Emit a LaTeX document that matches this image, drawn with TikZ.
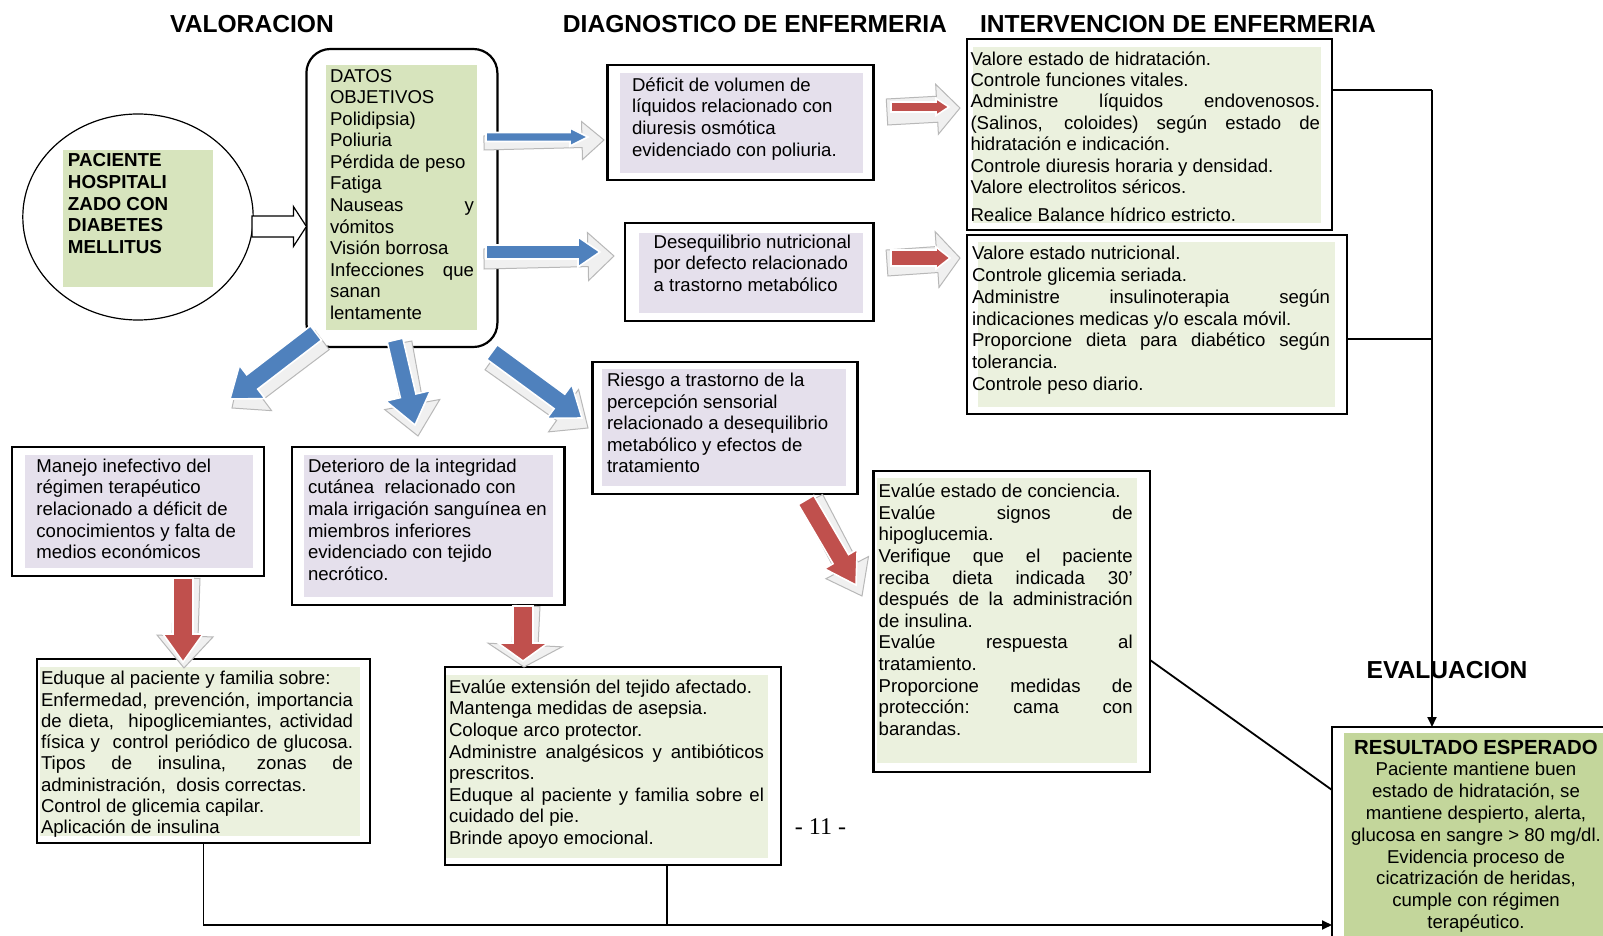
\documentclass[tikz,border=0pt]{standalone}
\usepackage{fontspec}
\setmainfont{Liberation Sans}
\newfontfamily\pagenumfont{Liberation Serif}
\usetikzlibrary{shapes.geometric,calc,arrows.meta}

\definecolor{dgreen}{HTML}{D7E4BD}
\definecolor{lgreen}{HTML}{EBF1DE}
\definecolor{rgreen}{HTML}{C3D69B}
\definecolor{lpurple}{HTML}{E5E0EC}
\definecolor{arrblue}{HTML}{4F81BD}
\definecolor{arrred}{HTML}{C0504D}

\newcommand\bodyfont{\fontsize{9.3pt}{10.75pt}\selectfont}
\newcommand\jl[1]{\noindent\hbox to \hsize{\spaceskip=0.278em plus 1fil\xspaceskip=0.278em plus 1fil\relax #1}}

% fat block arrow: style, start, end, shaft half width, head half width, head length
\newcommand\arrowpoly[6]{%
  \coordinate (fas) at #2;
  \coordinate (fae) at #3;
  \coordinate (fab) at ($(fae)!#6!(fas)$);
  \filldraw[#1] ($(fas)!#4!90:(fae)$) -- ($(fab)!#4!-90:(fas)$) -- ($(fab)!#5!-90:(fas)$)
     -- (fae) -- ($(fab)!#5!90:(fas)$) -- ($(fab)!#4!90:(fas)$) -- ($(fas)!#4!-90:(fae)$) -- cycle;
}

% box node from corner coordinates (pixels)
\newcommand\boxnode[6][]{%
  \node[box,#1,minimum width={(#5-#3)*0.5pt},minimum height={(#6-#4)*0.5pt}] (#2) at ({(#3+#5)/2},{(#4+#6)/2}) {};
}

\tikzset{
  box/.style={draw=black, line width=1.1pt, fill=white, inner sep=0pt, outer sep=0pt},
  txt/.style={inner sep=0pt, outer sep=0pt, anchor=north west, align=left, font=\bodyfont,
              execute at begin node={\spaceskip=0pt\xspaceskip=0pt\strut}},
  ctxt/.style={inner sep=0pt, outer sep=0pt, anchor=north, align=center,
              execute at begin node={\spaceskip=0.278em\xspaceskip=0.278em\strut}},
  conn/.style={draw=black, line width=0.9pt},
  shadowarrow/.style={fill=black!6, draw=black!28, line width=0.5pt},
  bluearrow/.style={fill=arrblue, draw=white, line width=0.8pt},
  redarrow/.style={fill=arrred, draw=white, line width=0.8pt},
  hollowarrow/.style={fill=white, draw=black, line width=0.6pt},
  heading/.style={font=\fontsize{12.3pt}{14pt}\selectfont\bfseries, inner sep=0pt},
  tip/.style={-{Triangle[length=5pt,width=4.5pt]}},
}

\begin{document}
\begin{tikzpicture}[x=0.5pt,y=-0.5pt]
\useasboundingbox (0,0) rectangle (1603,936);
\clip (0,0) rectangle (1603,936);
\fill[white] (0,0) rectangle (1603,936);

% headings
\node[heading] (hval) at (252,24) {VALORACION};
\node[heading] (hdia) at (755,24) {DIAGNOSTICO DE ENFERMERIA};
\node[heading] (hint) at (1178,24) {INTERVENCION DE ENFERMERIA};
\node[heading] (heva) at (1447,670) {EVALUACION};

% patient ellipse
\node[ellipse, draw=black, line width=0.6pt, fill=white, inner sep=0pt,
      minimum width=115.2pt, minimum height=103pt] (pac) at (138,217) {};
\fill[dgreen] (63,150) rectangle (213,287);
\node[txt, font=\fontsize{9.4pt}{10.85pt}\selectfont\bfseries, text width=72pt] (pact) at (68,151.6)
  {PACIENTE\\HOSPITALI\\ZADO CON\\DIABETES\\MELLITUS};

% datos objetivos
\boxnode[rounded corners=12pt]{dat}{306.4}{49}{497.4}{347}
\fill[dgreen] (326,65) rectangle (476.5,330);
\node[txt, text width=72pt, font=\fontsize{9.3pt}{10.78pt}\selectfont] (datt) at (330,67)
  {DATOS\\OBJETIVOS\\Polidipsia)\\Poliuria\\Pérdida de peso\\Fatiga\\\jl{Nauseas y}\\vómitos\\Visión borrosa\\\jl{Infecciones que}\\sanan\\lentamente};

% hollow arrow
\coordinate (h1) at (252,226.5);
\coordinate (h2) at (306.4,226.5);
\arrowpoly{hollowarrow}{(h1)}{(h2)}{5.25pt}{10pt}{6.5pt}

% diagnoses
\boxnode{d1}{607.4}{65}{873.5}{180}
\fill[lpurple] (620,73) rectangle (862.5,173);
\node[txt, text width=115pt, font=\fontsize{9.3pt}{10.85pt}\selectfont] (d1t) at (632,76)
  {Déficit de volumen de\\líquidos relacionado con\\diuresis osmótica\\evidenciado con poliuria.};

\boxnode{d2}{624.8}{222.7}{873.5}{321}
\fill[lpurple] (638.7,232.7) rectangle (862.5,313);
\node[txt, text width=110pt] (d2t) at (653.6,233.2)
  {Desequilibrio nutricional\\por defecto relacionado\\a trastorno metabólico};

\boxnode{d3}{592.4}{361.7}{857.5}{494}
\fill[lpurple] (602,369) rectangle (846,486);
\node[txt, text width=120pt] (d3t) at (607,371.6)
  {Riesgo a trastorno de la\\percepción sensorial\\relacionado a desequilibrio\\metabólico y efectos de\\tratamiento};

\boxnode{d4}{12.2}{446.7}{264}{576}
\fill[lpurple] (25,455) rectangle (252.6,568);
\node[txt, text width=110pt, font=\fontsize{9.3pt}{10.85pt}\selectfont] (d4t) at (36.4,456.9)
  {Manejo inefectivo del\\régimen terapéutico\\relacionado a déficit de\\conocimientos y falta de\\medios económicos};

\boxnode{d5}{291.6}{446.7}{564.5}{605}
\fill[lpurple] (304,455) rectangle (553,596.7);
\node[txt, text width=125pt, font=\fontsize{9.3pt}{10.8pt}\selectfont] (d5t) at (308,457.2)
  {Deterioro de la integridad\\cutánea \ relacionado con\\mala irrigación sanguínea en\\miembros inferiores\\evidenciado con tejido\\necrótico.};

% interventions
\boxnode{i1}{967}{39}{1332}{230}
\fill[lgreen] (973,47) rectangle (1321,223);
\node[txt, text width=174.75pt, font=\fontsize{9.3pt}{10.7pt}\selectfont] (i1t) at (970.5,50.2)
  {Valore estado de hidratación.\\Controle funciones vitales.\\\jl{Administre líquidos endovenosos.}\\\jl{(Salinos, coloides) según estado de}\\hidratación e indicación.\\Controle diuresis horaria y densidad.\\Valore electrolitos séricos.\\[3.15pt]Realice Balance hídrico estricto.};

\boxnode{i2}{967}{235}{1346.7}{414}
\fill[lgreen] (978,241.7) rectangle (1335,406.7);
\node[txt, text width=179pt, font=\fontsize{9.3pt}{10.9pt}\selectfont] (i2t) at (972,244.4)
  {Valore estado nutricional.\\Controle glicemia seriada.\\\jl{Administre insulinoterapia según}\\indicaciones medicas y/o escala móvil.\\\jl{Proporcione dieta para diabético según}\\tolerancia.\\Controle peso diario.};

\boxnode{i3}{873.4}{470.7}{1150}{771.7}
\fill[lgreen] (877,478) rectangle (1137,763);
\node[txt, text width=127pt, font=\fontsize{9.3pt}{10.8pt}\selectfont] (i3t) at (878.7,482.6)
  {Evalúe estado de conciencia.\\\jl{Evalúe signos de}\\hipoglucemia.\\\jl{Verifique que el paciente}\\\jl{reciba dieta indicada 30'}\\\jl{después de la administración}\\de insulina.\\\jl{Evalúe respuesta al}\\tratamiento.\\\jl{Proporcione medidas de}\\\jl{protección: cama con}\\barandas.};

\boxnode{i4}{37}{659}{370}{843}
\fill[lgreen] (40,667) rectangle (360,836);
\node[txt, text width=156pt, font=\fontsize{9.3pt}{10.65pt}\selectfont] (i4t) at (41,669.8)
  {Eduque al paciente y familia sobre:\\\jl{Enfermedad, prevención, importancia}\\\jl{de dieta, \ hipoglicemiantes, actividad}\\\jl{física y \ control periódico de glucosa.}\\\jl{Tipos de insulina, zonas de}\\administración, \ dosis correctas.\\Control de glicemia capilar.\\Aplicación de insulina};

\boxnode{i5}{445}{667}{780.6}{865}
\fill[lgreen] (446,675) rectangle (768,858);
\node[txt, text width=157.5pt, font=\fontsize{9.3pt}{10.8pt}\selectfont] (i5t) at (449,678.1)
  {Evalúe extensión del tejido afectado.\\Mantenga medidas de asepsia.\\Coloque arco protector.\\\jl{Administre analgésicos y antibióticos}\\prescritos.\\\jl{Eduque al paciente y familia sobre el}\\cuidado del pie.\\Brinde apoyo emocional.};

% expected result
\boxnode{res}{1332}{727}{1640}{960}
\fill[rgreen] (1344,733) rectangle (1640,960);
\node[ctxt, text width=140pt, font=\fontsize{9.3pt}{10.9pt}\selectfont] (rest) at (1476,738.9)
  {{\fontsize{10.2pt}{10.9pt}\selectfont\bfseries RESULTADO ESPERADO}\\Paciente mantiene buen\\estado de hidratación, se\\mantiene despierto, alerta,\\glucosa en sangre > 80 mg/dl.\\Evidencia proceso de\\cicatrización de heridas,\\cumple con régimen\\terapéutico.};

% page number
\node[font=\pagenumfont\fontsize{12pt}{14pt}\selectfont, inner sep=0pt] (pg) at (820.5,826.7) {- 11 -};

% blue arrows (datos -> diagnoses)
\coordinate (ba1s) at (486,137);  \coordinate (ba1e) at (588,137);
\arrowpoly{shadowarrow}{($(ba1s)+(-2,6)$)}{($(ba1e)+(16,3)$)}{3.5pt}{9.5pt}{11pt}
\arrowpoly{bluearrow}{(ba1s)}{(ba1e)}{2.25pt}{4.5pt}{9pt}

\coordinate (ba2s) at (486,252);  \coordinate (ba2e) at (600,252);
\arrowpoly{shadowarrow}{($(ba2s)+(-2,7)$)}{($(ba2e)+(14,4)$)}{5pt}{12pt}{13pt}
\arrowpoly{bluearrow}{(ba2s)}{(ba2e)}{3.5pt}{7.5pt}{11pt}

\coordinate (ba3s) at (316,333);  \coordinate (ba3e) at (230,399);
\arrowpoly{shadowarrow}{($(ba3s)+(6,7)$)}{($(ba3e)+(2,9)$)}{6pt}{13pt}{15pt}
\arrowpoly{bluearrow}{(ba3s)}{(ba3e)}{4.5pt}{10.5pt}{14pt}

\coordinate (ba4s) at (395,340);  \coordinate (ba4e) at (415,425);
\arrowpoly{shadowarrow}{($(ba4s)+(6,3)$)}{($(ba4e)+(3,11)$)}{5.5pt}{14pt}{16pt}
\arrowpoly{bluearrow}{(ba4s)}{(ba4e)}{4pt}{11.5pt}{15pt}

\coordinate (ba5s) at (492,352);  \coordinate (ba5e) at (582,418);
\arrowpoly{shadowarrow}{($(ba5s)+(0,8)$)}{($(ba5e)+(6,10)$)}{6pt}{13pt}{15pt}
\arrowpoly{bluearrow}{(ba5s)}{(ba5e)}{4.5pt}{10.5pt}{14pt}

% red arrows (diagnoses -> interventions)
\coordinate (ra1s) at (891,107);  \coordinate (ra1e) at (949,107);
\arrowpoly{shadowarrow}{($(ra1s)+(-4,5)$)}{($(ra1e)+(11,1)$)}{6.5pt}{12.5pt}{11.5pt}
\arrowpoly{redarrow}{(ra1s)}{(ra1e)}{2.5pt}{4.25pt}{6.5pt}

\coordinate (ra2s) at (891,258);  \coordinate (ra2e) at (950,258);
\arrowpoly{shadowarrow}{($(ra2s)+(-4,5)$)}{($(ra2e)+(10,0)$)}{6.5pt}{14pt}{11.5pt}
\arrowpoly{redarrow}{(ra2s)}{(ra2e)}{4pt}{5.5pt}{7pt}

\coordinate (ra3s) at (806,500);  \coordinate (ra3e) at (856,585);
\arrowpoly{shadowarrow}{($(ra3s)+(6,0)$)}{($(ra3e)+(6,11)$)}{6pt}{12pt}{16pt}
\arrowpoly{redarrow}{(ra3s)}{(ra3e)}{4.5pt}{9.5pt}{15pt}

\coordinate (ra4s) at (183,578);  \coordinate (ra4e) at (183,662);
\arrowpoly{shadowarrow}{($(ra4s)+(4,0)$)}{($(ra4e)+(1,6)$)}{6.5pt}{14pt}{16pt}
\arrowpoly{redarrow}{(ra4s)}{(ra4e)}{5pt}{10pt}{14pt}

\coordinate (ra5s) at (523,606);  \coordinate (ra5e) at (523,661);
\arrowpoly{shadowarrow}{($(ra5s)+(4,0)$)}{($(ra5e)+(1,6)$)}{6.5pt}{18.5pt}{11pt}
\arrowpoly{redarrow}{(ra5s)}{(ra5e)}{5pt}{12.5pt}{9pt}

% connectors to evaluation
\coordinate (j1) at (1432,90);
\coordinate (j2) at (1432,339);
\draw[conn] (j1 -| i1.east) -- (j1);
\draw[conn] (j2 -| i2.east) -- (j2);
\draw[conn,tip] (j1) -- (j1 |- res.north);

\coordinate (k1) at (1150,660);
\coordinate (k2) at (1332,790);
\draw[conn] (k1 -| i3.east) -- (k2 -| res.west);

\coordinate (bl) at (667,925);
\draw[conn,tip] (i4.south) |- (bl -| res.west);
\draw[conn] (bl |- i5.south) -- (bl);
\end{tikzpicture}
\end{document}
